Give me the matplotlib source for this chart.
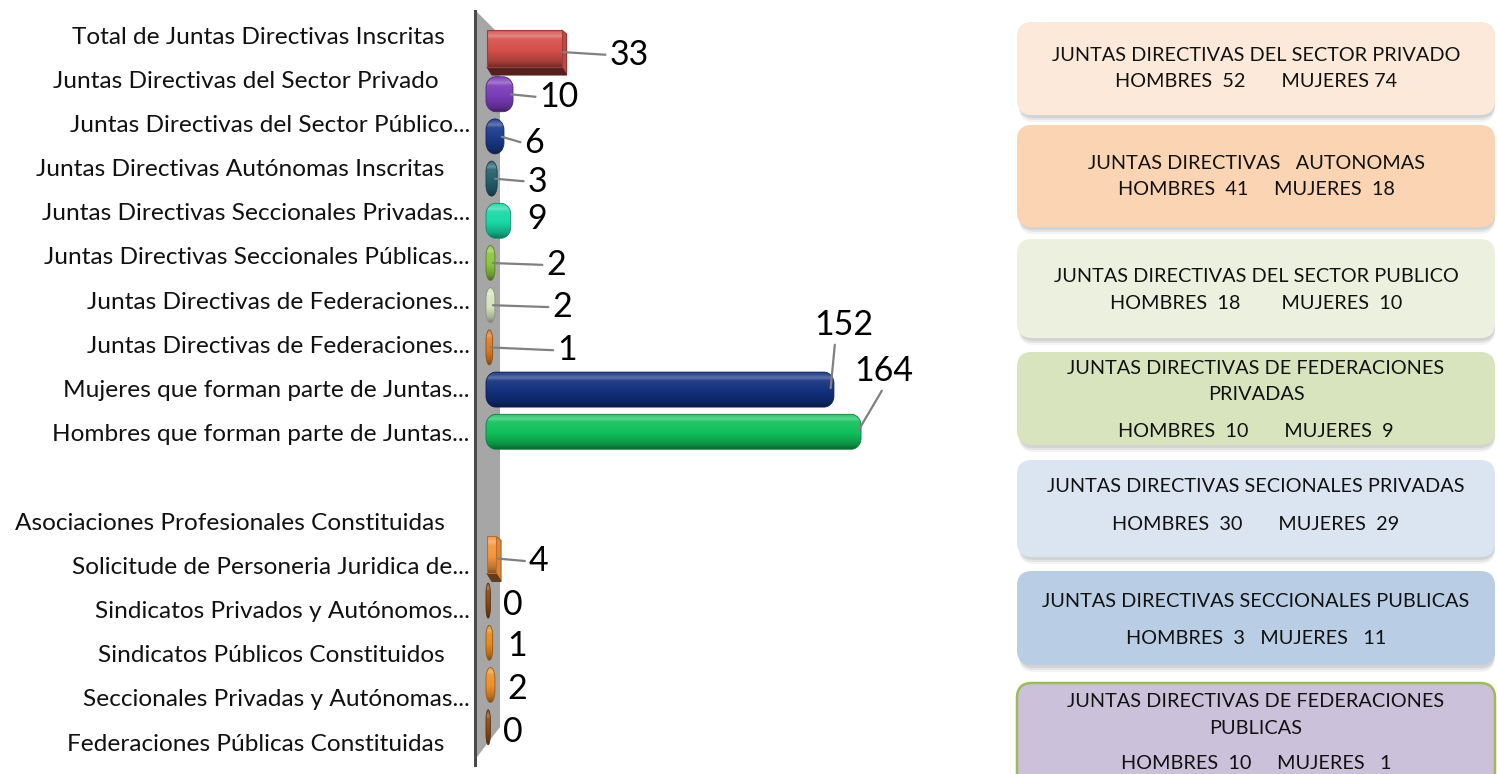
import numpy as np
import matplotlib
matplotlib.use("Agg")
import matplotlib.pyplot as plt
from matplotlib.patches import PathPatch, FancyBboxPatch, Polygon, Rectangle
from matplotlib.path import Path
import matplotlib.colors as mcolors

# ---------------- data ----------------
categories = [
    "Total de Juntas Directivas Inscritas",
    "Juntas Directivas del Sector Privado",
    "Juntas Directivas del Sector Público...",
    "Juntas Directivas Autónomas Inscritas",
    "Juntas Directivas Seccionales Privadas...",
    "Juntas Directivas Seccionales Públicas...",
    "Juntas Directivas de Federaciones...",
    "Juntas Directivas de Federaciones...",
    "Mujeres que forman parte de Juntas...",
    "Hombres que forman parte de Juntas...",
    "",
    "Asociaciones Profesionales Constituidas",
    "Solicitude de Personeria Juridica de...",
    "Sindicatos Privados y Autónomos...",
    "Sindicatos Públicos Constituidos",
    "Seccionales Privadas y Autónomas...",
    "Federaciones Públicas Constituidas",
]
values = [33, 10, 6, 3, 9, 2, 2, 1, 152, 164, np.nan, np.nan, 4, 0, 1, 2, 0]

box_titles = [
    ["JUNTAS DIRECTIVAS DEL SECTOR PRIVADO"],
    ["JUNTAS DIRECTIVAS   AUTONOMAS"],
    ["JUNTAS DIRECTIVAS DEL SECTOR PUBLICO"],
    ["JUNTAS DIRECTIVAS DE FEDERACIONES", "PRIVADAS"],
    ["JUNTAS DIRECTIVAS SECIONALES PRIVADAS"],
    ["JUNTAS DIRECTIVAS SECCIONALES PUBLICAS"],
    ["JUNTAS DIRECTIVAS DE FEDERACIONES", "PUBLICAS"],
]
hombres = [52, 41, 18, 10, 30, 3, 10]
mujeres = [74, 18, 10, 9, 29, 11, 1]

# ---------------- styles ----------------
bar_colors = ["#D64F4A", "#7A3BB8", "#1A3A8A", "#23606F", "#19D8A6", "#8CC63F",
              "#D6E3C0", "#E07B22", "#12307E", "#10C05A", "#999999", "#999999",
              "#F7953D", "#8A4A14", "#E8891C", "#F0902A", "#8A4A14"]
bar_kind = ["box", "round", "round", "round", "round", "round", "round", "round",
            "round", "round", None, None, "box", "round", "round", "round", "round"]
# label offsets (px: dx right, dy down) from bar end/centre
label_off = [(48, 0), (30, 0), (24, 4), (34, 0), (20, -5), (55, -1), (61, -1), (68, 0),
             (-16, -68), (-3, -64), None, None, (33, 0), (16, 1), (18, 0), (16, 1), (16, 2)]
leader = [True, True, True, True, False, True, True, True, True, True, False, False,
          True, False, False, False, False]
leader_rel = [(0, 0.5)] * 8 + [(0.35, 0.0), (0.5, 0.0)] + [(0, 0.5)] * 7
label_trail = ["    ", "     ", "", "    ", "", "", "", "", "", "", "",
               "    ", "", "", "    ", "", "    "]
count_fmt = [
    "HOMBRES  {h}       MUJERES {m}",
    "HOMBRES  {h}     MUJERES  {m}",
    "HOMBRES  {h}        MUJERES  {m}",
    "HOMBRES  {h}       MUJERES  {m}",
    "HOMBRES  {h}       MUJERES  {m}",
    "HOMBRES  {h}   MUJERES   {m}",
    "HOMBRES  {h}     MUJERES   {m}",
]
box_fill = ["#FDE9D9", "#FBD4B4", "#EBF1DE", "#D7E4BD", "#DBE5F1", "#B9CDE5", "#CCC1DA"]
box_edge = [None, None, None, None, None, None, "#9BBB59"]
box_y = [(22, 115), (125, 227), (239, 338), (352, 445), (460, 557), (571, 665), (683, 800)]
box_line_y = [[54, 80], [162, 188], [275, 302], [367, 393, 430], [485, 523], [600, 637],
              [700, 727, 762]]

FONT = "Lato"
plt.rcParams["font.family"] = [FONT, "DejaVu Sans"]

W, H = 1497, 774
fig = plt.figure(figsize=(W / 100, H / 100), dpi=100)


def frac(x0, y0, x1, y1):
    return [x0 / W, 1 - y1 / H, (x1 - x0) / W, (y1 - y0) / H]


# background/decoration axes in pixel units
ax_bg = fig.add_axes([0, 0, 1, 1], zorder=0)
ax_bg.set_xlim(0, W)
ax_bg.set_ylim(H, 0)
ax_bg.axis("off")

# 3-D wall
ax_bg.add_patch(Polygon([(477, 12), (500, 35), (500, 727), (477, 757)], closed=True,
                        facecolor="#A6A6A6", edgecolor="none"))
ax_bg.add_patch(Rectangle((473.5, 10), 3.5, 757, facecolor="#4A4A4A", edgecolor="none"))

# right-hand boxes
BX0, BX1 = 1017, 1495
for k, (y0, y1) in enumerate(box_y):
    for s, a in [(7, 0.06), (5, 0.08), (3, 0.10)]:
        ax_bg.add_patch(FancyBboxPatch((BX0 + 2, y0 + s), BX1 - BX0 - 2, y1 - y0,
                                       boxstyle="round,pad=0,rounding_size=15",
                                       facecolor="#404040", edgecolor="none", alpha=a))
    ax_bg.add_patch(FancyBboxPatch((BX0, y0), BX1 - BX0, y1 - y0,
                                   boxstyle="round,pad=0,rounding_size=15",
                                   facecolor=box_fill[k],
                                   edgecolor=box_edge[k] if box_edge[k] else "none",
                                   linewidth=1.8))
    lines = list(box_titles[k]) + [count_fmt[k].format(h=hombres[k], m=mujeres[k])]
    for txt, ty in zip(lines, box_line_y[k]):
        ax_bg.text((BX0 + BX1) / 2, ty, txt, ha="center", va="center_baseline",
                   fontsize=14.3, color="#111111")

# ---------------- bar chart ----------------
AX = (476, 10, 990, 765)
SX = 2.26      # px per value unit
ZERO_PX = 487
LAB0, LABSTEP = 35, 44.2
BAR0, BARSTEP = 52, 42.2
n = len(categories)
rows = np.arange(n)

ax_lab = fig.add_axes(frac(*AX), zorder=1)
ax_lab.patch.set_visible(False)
for s in ax_lab.spines.values():
    s.set_visible(False)
ax_lab.set_xticks([])
ax_lab.set_yticks(rows)
ax_lab.set_yticklabels([c + t for c, t in zip(categories, label_trail)])
ax_lab.set_ylim((AX[3] - LAB0) / LABSTEP, (AX[1] - LAB0) / LABSTEP)
ax_lab.tick_params(axis="y", length=0, pad=4.5, labelsize=17.6, labelcolor="#111111")

ax = fig.add_axes(frac(*AX), zorder=2)
ax.patch.set_visible(False)
for s in ax.spines.values():
    s.set_visible(False)
ax.set_xticks([])
ax.set_yticks([])
XLIM = ((AX[0] - ZERO_PX) / SX, (AX[2] - ZERO_PX) / SX)
YLIM = ((AX[3] - BAR0) / BARSTEP, (AX[1] - BAR0) / BARSTEP)
ax.set_xlim(*XLIM)
ax.set_ylim(*YLIM)
ax.set_autoscale_on(False)


def rounded_path(x0, x1, y0, y1, rx, ry):
    k = 0.5523
    M, L, C, Z = Path.MOVETO, Path.LINETO, Path.CURVE4, Path.CLOSEPOLY
    v = [(x0 + rx, y0), (x1 - rx, y0),
         (x1 - rx + k * rx, y0), (x1, y0 + ry - k * ry), (x1, y0 + ry),
         (x1, y1 - ry),
         (x1, y1 - ry + k * ry), (x1 - rx + k * rx, y1), (x1 - rx, y1),
         (x0 + rx, y1),
         (x0 + rx - k * rx, y1), (x0, y1 - ry + k * ry), (x0, y1 - ry),
         (x0, y0 + ry),
         (x0, y0 + ry - k * ry), (x0 + rx - k * rx, y0), (x0 + rx, y0),
         (x0 + rx, y0)]
    c = [M, L, C, C, C, L, C, C, C, L, C, C, C, L, C, C, C, Z]
    return Path(v, c)


def shade(color, amt):
    rgb = np.array(mcolors.to_rgb(color))
    if amt >= 0:
        return rgb + (1 - rgb) * amt
    return rgb * (1 + amt)


def gradient(color, n_px=64):
    t = np.linspace(0, 1, n_px)
    amt = np.interp(t, [0, 0.08, 0.16, 0.24, 0.55, 0.85, 1.0],
                    [0.05, 0.18, 0.32, 0.08, 0.0, -0.22, -0.45])
    return np.array([shade(color, a) for a in amt])[:, None, :]


def grad_fill(path_patch, color, x0, x1, ytop, ybot):
    ax.add_patch(path_patch)
    im = ax.imshow(gradient(color), extent=(x0, x1, ybot, ytop), origin="upper",
                   aspect="auto", interpolation="bilinear", zorder=3)
    im.set_clip_path(path_patch)


for i in rows:
    v = values[i]
    if not np.isfinite(v):
        continue
    col = bar_colors[i]
    if bar_kind[i] == "round":
        h = 35 / BARSTEP
        left, right = -0.45, v + 1.5
        rx = min(10 / SX, (right - left) / 2)
        ry = min(11 / BARSTEP, h / 2)
        ytop, ybot = i - h / 2, i + h / 2
        pth = rounded_path(left, right, ytop, ybot, rx, ry)
        pp = PathPatch(pth, facecolor="none", edgecolor=shade(col, -0.35),
                       linewidth=0.6, zorder=4)
        grad_fill(PathPatch(pth, facecolor="none", edgecolor="none"), col,
                  left, right, ytop, ybot)
        ax.add_patch(pp)
    else:
        ytop, yface = i - 22 / BARSTEP, i + 15 / BARSTEP
        ydeep = i + 23 / BARSTEP
        dx = 5 / SX
        # right side face
        ax.add_patch(Polygon([(v, ytop), (v + dx, ytop + 4 / BARSTEP), (v + dx, ydeep),
                              (v, yface)], closed=True, facecolor=shade(col, -0.1),
                             edgecolor=shade(col, -0.3), linewidth=0.8, zorder=3))
        # bottom face
        ax.add_patch(Polygon([(0, yface), (v, yface), (v + dx, ydeep), (dx, ydeep)],
                             closed=True, facecolor=shade(col, -0.6),
                             edgecolor=shade(col, -0.6), linewidth=0.8, zorder=3))
        face = Rectangle((0, ytop), v, yface - ytop, facecolor="none", edgecolor="none")
        grad_fill(face, col, 0, v, ytop, yface)
        ax.add_patch(Rectangle((0, ytop), v, yface - ytop, facecolor="none",
                               edgecolor=shade(col, -0.25), linewidth=0.8, zorder=4))

# data labels
for i in rows:
    v = values[i]
    if not np.isfinite(v) or label_off[i] is None:
        continue
    dx, dy = label_off[i]
    ap = None
    if leader[i]:
        ap = dict(arrowstyle="-", color="#808080", lw=1.6, relpos=leader_rel[i],
                  shrinkA=1, shrinkB=1)
    ax.annotate(f"{int(v)}", xy=(v, i), xytext=(dx, -dy), textcoords="offset pixels",
                ha="left", va="center_baseline", fontsize=24.5, color="#000000",
                arrowprops=ap, zorder=6, annotation_clip=False)

fig.savefig("out.png", dpi=100)
